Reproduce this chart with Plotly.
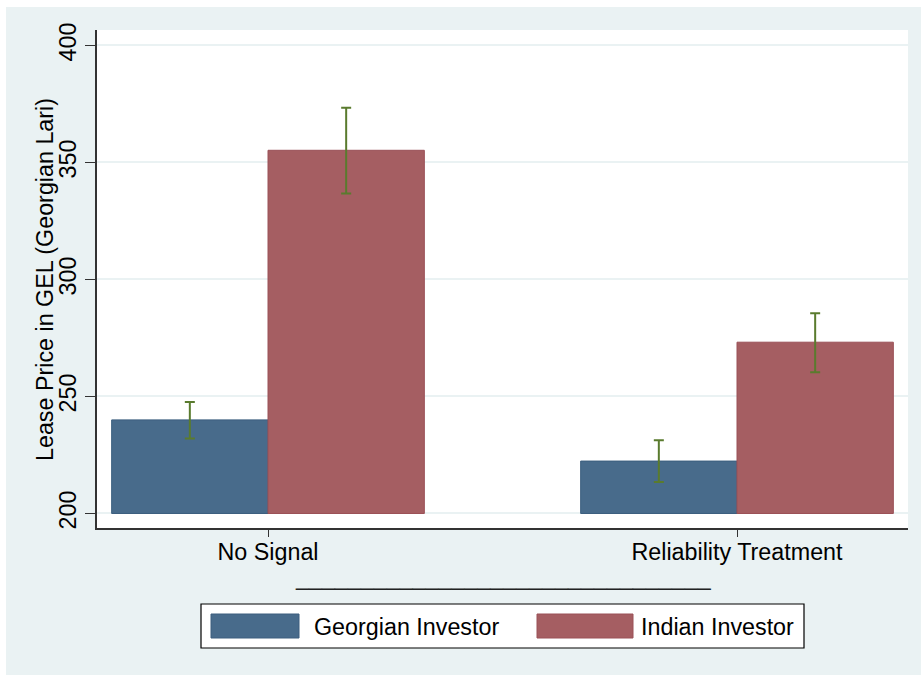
import plotly.graph_objects as go

# ---- data ----
categories = ["No Signal", "Reliability Treatment"]
cat_pos = [0, 1]
series_names = ["Georgian Investor", "Indian Investor"]
georgian_mean = [240.0, 222.4]
georgian_hi = [247.6, 231.3]
georgian_lo = [232.0, 213.5]
indian_mean = [355.2, 273.2]
indian_hi = [373.4, 285.6]
indian_lo = [336.7, 260.4]
y_ticks = [200, 250, 300, 350, 400]

# ---- geometry (pixels) ----
W, H = 921, 675
L, R, T, B = 97, 908, 30, 528
pw, ph = R - L, B - T

def px(x):
    return (x - L) / pw

def py(y):
    return (B - y) / ph

blue = "#486b8b"
blue_line = "#3c5f7f"
red = "#a55e62"
red_line = "#9a5057"
green = "#5a7b2e"
bg = "#eaf2f3"
font = "Liberation Sans, Arial, sans-serif"
fs = 23.3

fig = go.Figure()
bw = 1 / 3
for name, mean, hi, lo, col, lcol, off in [
    (series_names[0], georgian_mean, georgian_hi, georgian_lo, blue, blue_line, -bw),
    (series_names[1], indian_mean, indian_hi, indian_lo, red, red_line, 0.0),
]:
    fig.add_trace(go.Bar(
        x=cat_pos, y=[m - 200 for m in mean], base=200, name=name,
        width=bw, offset=off,
        marker=dict(color=col, line=dict(color=lcol, width=1)),
        error_y=dict(type="data", symmetric=False,
                     array=[h - m for h, m in zip(hi, mean)],
                     arrayminus=[m - l for m, l in zip(mean, lo)],
                     color=green, thickness=2, width=5),
        showlegend=False,
    ))

shapes = [
    # white strips around outer background
    dict(type="rect", xref="paper", yref="paper", x0=px(0), x1=px(6), y0=py(0), y1=py(H), fillcolor="white", line_width=0, layer="below"),
    dict(type="rect", xref="paper", yref="paper", x0=px(0), x1=px(W), y0=py(0), y1=py(7), fillcolor="white", line_width=0, layer="below"),
    # legend box
    dict(type="rect", xref="paper", yref="paper", x0=px(201), x1=px(804), y0=py(648), y1=py(604), fillcolor="white", line=dict(color="black", width=1.2)),
    dict(type="rect", xref="paper", yref="paper", x0=px(211), x1=px(299), y0=py(638), y1=py(614), fillcolor=blue, line=dict(color=blue_line, width=1)),
    dict(type="rect", xref="paper", yref="paper", x0=px(537), x1=px(633), y0=py(638), y1=py(614), fillcolor=red, line=dict(color=red_line, width=1)),
]

annotations = [
    dict(text="Lease Price in GEL (Georgian Lari)", xref="paper", yref="paper", x=px(45), y=py(280),
         textangle=-90, showarrow=False, font=dict(family=font, size=fs, color="black"), xanchor="center", yanchor="middle"),
    dict(text="_" * 32, xref="paper", yref="paper", x=px(503), y=py(592), showarrow=False,
         font=dict(family=font, size=fs, color="#222222"), xanchor="center", yanchor="bottom"),
    dict(text=series_names[0], xref="paper", yref="paper", x=px(312), y=py(627), showarrow=False,
         font=dict(family=font, size=fs, color="black"), xanchor="left", yanchor="middle"),
    dict(text=series_names[1], xref="paper", yref="paper", x=px(639), y=py(627), showarrow=False,
         font=dict(family=font, size=fs, color="black"), xanchor="left", yanchor="middle"),
]

fig.update_layout(
    width=W, height=H,
    margin=dict(l=L, r=W - R, t=T, b=H - B, pad=0),
    paper_bgcolor=bg, plot_bgcolor="white",
    font=dict(family=font, size=fs, color="black"),
    barmode="overlay",
    shapes=shapes, annotations=annotations,
    xaxis=dict(range=[-0.3646, 1.3646], tickvals=cat_pos, ticktext=categories,
               showgrid=False, zeroline=False, showline=True, linecolor="#333333", linewidth=1.5,
               ticks="outside", ticklen=7, tickcolor="#333333", tickwidth=1,
               ticklabelstandoff=-5,
               tickfont=dict(family=font, size=fs, color="black")),
    yaxis=dict(range=[193.8, 406.6], tickvals=y_ticks, ticktext=[str(v) for v in y_ticks],
               showgrid=True, gridcolor=bg, gridwidth=1.5, zeroline=False,
               showline=True, linecolor="#333333", linewidth=1.5,
               ticks="outside", ticklen=10, tickcolor="#333333", tickwidth=1,
               tickangle=-90, tickfont=dict(family=font, size=fs, color="black")),
)

fig.write_html("out.html", config={"displayModeBar": False},
               post_script="document.body.style.margin='0';document.body.style.padding='0';")
